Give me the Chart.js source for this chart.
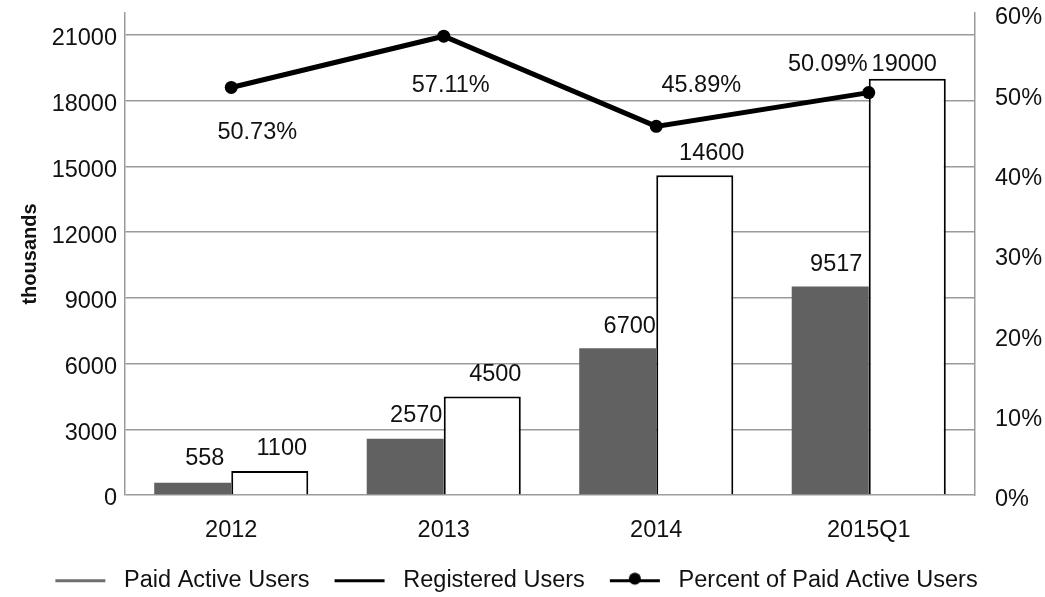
<!DOCTYPE html>
<html>
<head>
<meta charset="utf-8">
<title>Paid Active Users vs Registered Users</title>
<script src="https://cdn.jsdelivr.net/npm/chart.js@4/dist/chart.umd.min.js"></script>
<style>
  html, body { margin: 0; padding: 0; background: #ffffff; }
  #wrap { width: 1045px; height: 597px; }
</style>
</head>
<body>
<div id="wrap"><canvas id="chart" width="1045" height="597"></canvas></div>
<script>
// ---- data ----
const categories = ['2012', '2013', '2014', '2015Q1'];
const paidActiveUsers = [558, 2570, 6700, 9517];          // thousands
const registeredUsers = [1100, 4500, 14600, 19000];       // thousands
const paidPercent = [50.73, 57.11, 45.89, 50.09];          // percent
const seriesNames = ['Paid Active Users', 'Registered Users', 'Percent of Paid Active Users'];
const leftTicks = [0, 3000, 6000, 9000, 12000, 15000, 18000, 21000];
const rightTicks = [0, 10, 20, 30, 40, 50, 60];
const leftMax = 22000;
const rightMax = 60;

// ---- look ----
const FONT = "'Liberation Sans', Arial, Helvetica, sans-serif";
const TEXT = '#111111';
const GRID = '#9a9a9a';
const PAID_FILL = '#616161';

// value-label nudges (px) relative to each mark's top / point centre
const labelNudge = [
  [[12, -24], [11, -23], [12, -22], [6, -22]],
  [[12, -22], [13, -22], [17, -22], [-3, -14]],
  [[26, 45], [7, 49], [45, -41], [-41, -28]]
];

function legendMarker(color, withDot) {
  const c = document.createElement('canvas');
  c.width = 60; c.height = 16;
  const g = c.getContext('2d');
  g.fillStyle = color;
  g.fillRect(3, 7, 50, 3);
  if (withDot) {
    g.beginPath();
    g.arc(28, 6.5, 6, 0, Math.PI * 2);
    g.fill();
  }
  return c;
}
const markers = [legendMarker('#6e6e6e', false), legendMarker('#000000', false), legendMarker('#000000', true)];

const valueLabels = {
  id: 'valueLabels',
  afterDatasetsDraw(chart) {
    const ctx = chart.ctx;
    ctx.save();
    ctx.font = '23.5px ' + FONT;
    ctx.fillStyle = TEXT;
    ctx.textAlign = 'center';
    ctx.textBaseline = 'middle';
    chart.data.datasets.forEach((ds, di) => {
      const meta = chart.getDatasetMeta(di);
      meta.data.forEach((el, i) => {
        const v = ds.data[i];
        const txt = di === 2 ? v.toFixed(2) + '%' : String(v);
        const [dx, dy] = labelNudge[di][i];
        ctx.fillText(txt, el.x + dx, el.y + dy);
      });
    });
    ctx.restore();
  }
};

// keep the legend row centred a little left of the full canvas width
const legendShift = {
  id: 'legendShift',
  afterLayout(chart) {
    if (chart.legend) chart.legend.right -= 15;
  }
};

function noScalePadding(scale) {
  scale.paddingTop = 0;
  scale.paddingBottom = 0;
  scale.paddingLeft = 0;
  scale.paddingRight = 0;
}

Chart.defaults.font.family = FONT;
Chart.defaults.color = TEXT;

new Chart(document.getElementById('chart'), {
  data: {
    labels: categories,
    datasets: [
      {
        type: 'bar',
        label: seriesNames[0],
        data: paidActiveUsers,
        yAxisID: 'y',
        backgroundColor: PAID_FILL,
        borderWidth: 0,
        categoryPercentage: 0.725,
        barPercentage: 1.0,
        order: 2
      },
      {
        type: 'bar',
        label: seriesNames[1],
        data: registeredUsers,
        yAxisID: 'y',
        backgroundColor: '#ffffff',
        borderColor: '#000000',
        borderWidth: 2,
        borderSkipped: 'bottom',
        categoryPercentage: 0.725,
        barPercentage: 1.0,
        order: 3
      },
      {
        type: 'line',
        label: seriesNames[2],
        data: paidPercent,
        yAxisID: 'y1',
        borderColor: '#000000',
        borderWidth: 5,
        backgroundColor: '#000000',
        pointRadius: 6.5,
        pointBackgroundColor: '#000000',
        pointBorderWidth: 0,
        tension: 0,
        order: 0
      }
    ]
  },
  options: {
    responsive: false,
    animation: false,
    devicePixelRatio: 1,
    layout: { padding: { left: 0, right: 0, top: 13, bottom: -5 } },
    plugins: {
      tooltip: { enabled: false },
      legend: {
        position: 'bottom',
        labels: {
          usePointStyle: true,
          pointStyleWidth: 60,
          padding: 22,
          color: TEXT,
          font: { size: 23.5, family: FONT },
          generateLabels(chart) {
            return chart.data.datasets.map((ds, i) => ({
              text: ds.label,
              pointStyle: markers[i],
              fillStyle: '#000',
              strokeStyle: '#000',
              lineWidth: 0,
              hidden: false,
              datasetIndex: i,
              fontColor: TEXT
            }));
          }
        }
      }
    },
    scales: {
      x: {
        type: 'category',
        grid: { display: false, drawTicks: false },
        border: { display: false },
        ticks: { font: { size: 23.5 }, color: TEXT, padding: 21 },
        afterFit(scale) { scale.height = 51.5; noScalePadding(scale); }
      },
      y: {
        type: 'linear',
        position: 'left',
        min: 0,
        max: leftMax,
        grid: { color: GRID, lineWidth: 1.5, drawTicks: false },
        border: { display: true, color: GRID, width: 1.5 },
        ticks: { font: { size: 23.5 }, color: TEXT, padding: 8, labelOffset: 4, callback: v => String(v) },
        afterBuildTicks(scale) { scale.ticks = leftTicks.map(v => ({ value: v })); },
        title: {
          display: true,
          text: 'thousands',
          color: TEXT,
          font: { size: 20, weight: 'bold' },
          padding: { top: 18, bottom: 0 }
        },
        afterFit(scale) { scale.width = 125; noScalePadding(scale); }
      },
      y1: {
        type: 'linear',
        position: 'right',
        min: 0,
        max: rightMax,
        grid: { display: false, drawTicks: false },
        border: { display: true, color: GRID, width: 1.5 },
        ticks: {
          font: { size: 23.5 },
          color: TEXT,
          padding: 20,
          labelOffset: 5,
          callback: v => v + '%'
        },
        afterBuildTicks(scale) { scale.ticks = rightTicks.map(v => ({ value: v })); },
        afterFit(scale) { scale.width = 70; noScalePadding(scale); }
      }
    }
  },
  plugins: [valueLabels, legendShift]
});
</script>
</body>
</html>
